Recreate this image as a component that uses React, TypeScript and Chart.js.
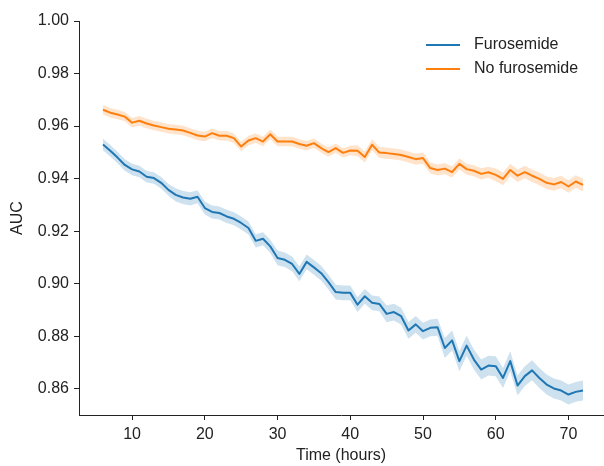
import React, { useEffect, useRef } from "react";
import { Chart, registerables } from "chart.js";

Chart.register(...registerables);

const hours = [
  6, 7, 8, 9, 10, 11, 12, 13, 14, 15, 16, 17, 18, 19, 20, 21, 22, 23, 24, 25, 26, 27, 28, 29, 30,
  31, 32, 33, 34, 35, 36, 37, 38, 39, 40, 41, 42, 43, 44, 45, 46, 47, 48, 49, 50, 51, 52, 53, 54,
  55, 56, 57, 58, 59, 60, 61, 62, 63, 64, 65, 66, 67, 68, 69, 70, 71, 72,
];

const furosemide = [
  0.953, 0.9506, 0.948, 0.9452, 0.9435, 0.9427, 0.9407, 0.9402, 0.9384, 0.9357, 0.9338, 0.9328,
  0.9323, 0.9331, 0.9288, 0.9273, 0.9269, 0.9256, 0.9247, 0.9231, 0.9212, 0.9163, 0.9171, 0.9142,
  0.9098, 0.9091, 0.9075, 0.9037, 0.9083, 0.9062, 0.904, 0.9006, 0.8968, 0.8965, 0.8965, 0.892,
  0.8952, 0.8927, 0.8923, 0.8885, 0.8892, 0.8876, 0.8822, 0.8845, 0.8819, 0.8832, 0.8834, 0.8755,
  0.8784, 0.8705, 0.8764, 0.8711, 0.8673, 0.8688, 0.8686, 0.8641, 0.8705, 0.8612, 0.8648, 0.867,
  0.8641, 0.8616, 0.8601, 0.8593, 0.8578, 0.8588, 0.8593,
];

const furosemideCI = [
  0.0022, 0.0022, 0.0022, 0.0022, 0.0022, 0.0022, 0.0022, 0.0022, 0.0022, 0.0022,
  0.0025, 0.0025, 0.0025, 0.0025, 0.0025, 0.0025, 0.0025, 0.0025, 0.0025, 0.0025, 0.0025, 0.0025,
  0.0025, 0.0025,
  0.0028, 0.0028, 0.0028, 0.0028, 0.0028, 0.0028, 0.0028, 0.0028, 0.0028, 0.0028, 0.0028, 0.0028,
  0.0028, 0.0028, 0.0028,
  0.0032, 0.0032, 0.0032, 0.0032, 0.0032, 0.0032, 0.0032, 0.0032,
  0.0038, 0.0038, 0.0038, 0.0038, 0.0038, 0.0038, 0.0038, 0.0038, 0.0038, 0.0038, 0.0038, 0.0038,
  0.0038, 0.0038, 0.0038, 0.0038, 0.0038, 0.0038, 0.0038, 0.0038,
];

const noFurosemide = [
  0.9662, 0.9651, 0.9644, 0.9636, 0.9613, 0.962, 0.961, 0.9602, 0.9596, 0.959, 0.9587, 0.9583,
  0.9574, 0.9564, 0.956, 0.9573, 0.9563, 0.9563, 0.9554, 0.9522, 0.9545, 0.9554, 0.9541, 0.9569,
  0.9541, 0.9541, 0.9541, 0.9532, 0.9525, 0.9535, 0.9516, 0.9501, 0.9516, 0.9498, 0.9507, 0.9506,
  0.9482, 0.9529, 0.9499, 0.9497, 0.9494, 0.949, 0.9482, 0.9474, 0.9478, 0.944, 0.9433, 0.9438,
  0.9425, 0.9456, 0.9436, 0.943, 0.9418, 0.9424, 0.9414, 0.9399, 0.9433, 0.9411, 0.9425, 0.9411,
  0.9399, 0.9384, 0.9378, 0.9387, 0.937, 0.9389, 0.9376,
];

const noFurosemideCI = [
  0.0018, 0.0018, 0.0018, 0.0018, 0.0018, 0.0018, 0.0018, 0.0018, 0.0018, 0.0018, 0.0018, 0.0018,
  0.0018, 0.0018, 0.0018, 0.0018, 0.0018, 0.0018, 0.0018, 0.0018, 0.0018, 0.0018, 0.0018, 0.0018,
  0.0018, 0.0018, 0.0018, 0.0018, 0.0018, 0.0018, 0.0018, 0.0018, 0.0018, 0.0018, 0.0018,
  0.0021, 0.0021, 0.0021, 0.0021, 0.0021, 0.0021, 0.0021, 0.0021, 0.0021, 0.0021, 0.0021, 0.0021,
  0.0021, 0.0021, 0.0021, 0.0021, 0.0021, 0.0021, 0.0021,
  0.0024, 0.0024, 0.0024, 0.0024, 0.0024, 0.0024, 0.0024, 0.0024, 0.0024, 0.0024, 0.0024, 0.0024,
  0.0024,
];

const seriesLabels = ["Furosemide", "No furosemide"];
const seriesColors = ["#1f77b4", "#ff7f0e"];
const bandColors = ["rgba(31,119,180,0.22)", "rgba(255,127,14,0.22)"];

const xTitle = "Time (hours)";
const yTitle = "AUC";

const FONT = '"Liberation Sans", Arial, sans-serif';

const pts = (vals: number[], ci: number[] | null, sign: number) =>
  hours.map((h, i) => ({ x: h, y: ci ? vals[i] + sign * ci[i] : vals[i] }));

const insideLegend = {
  id: "insideLegend",
  afterDraw(chart: any) {
    const ctx = chart.ctx;
    ctx.save();
    ctx.font = `16px ${FONT}`;
    ctx.textBaseline = "middle";
    ctx.textAlign = "left";
    seriesLabels.forEach((label, i) => {
      const y = 45 + i * 24;
      ctx.strokeStyle = seriesColors[i];
      ctx.lineWidth = 2;
      ctx.beginPath();
      ctx.moveTo(426, y);
      ctx.lineTo(460, y);
      ctx.stroke();
      ctx.fillStyle = "#222";
      ctx.fillText(label, 474, y);
    });
    ctx.restore();
  },
};

export default function App() {
  const ref = useRef<HTMLCanvasElement>(null);

  useEffect(() => {
    document.body.style.margin = "0";
    const canvas = ref.current;
    if (!canvas) return;
    const lineDs = (i: number, vals: number[]) => ({
      label: seriesLabels[i],
      data: pts(vals, null, 0),
      borderColor: seriesColors[i],
      borderWidth: 2,
      pointRadius: 0,
      tension: 0,
      fill: false,
      borderJoinStyle: "round" as const,
    });
    const bandDs = (i: number, vals: number[], ci: number[], sign: number, fillTarget: any) => ({
      label: seriesLabels[i] + (sign > 0 ? " upper" : " lower"),
      data: pts(vals, ci, sign),
      borderWidth: 0,
      borderColor: "rgba(0,0,0,0)",
      backgroundColor: bandColors[i],
      pointRadius: 0,
      tension: 0,
      fill: fillTarget,
    });
    const chart = new Chart(canvas, {
      type: "line",
      data: {
        datasets: [
          lineDs(0, furosemide),
          lineDs(1, noFurosemide),
          bandDs(0, furosemide, furosemideCI, 1, false),
          bandDs(0, furosemide, furosemideCI, -1, 2),
          bandDs(1, noFurosemide, noFurosemideCI, 1, false),
          bandDs(1, noFurosemide, noFurosemideCI, -1, 4),
        ],
      },
      options: {
        animation: false,
        responsive: false,
        maintainAspectRatio: false,
        layout: { padding: { top: 21, right: 1, left: 0, bottom: 0 } },
        plugins: {
          legend: { display: false },
          tooltip: { enabled: false },
        },
        scales: {
          x: {
            type: "linear",
            min: 2.7,
            max: 74.75,
            afterFit: (s: any) => {
              s.height = 51;
            },
            border: { display: true, color: "#222", width: 1 },
            grid: { drawOnChartArea: false, drawTicks: true, tickLength: 5, color: "#222" },
            ticks: {
              stepSize: 10,
              includeBounds: false,
              padding: 5,
              color: "#222",
              font: { family: FONT, size: 16 },
              maxRotation: 0,
            },
            title: {
              display: true,
              text: xTitle,
              color: "#222",
              font: { family: FONT, size: 16 },
              padding: { top: 0, bottom: 1 },
            },
          },
          y: {
            type: "linear",
            min: 0.85,
            max: 1.0,
            afterFit: (s: any) => {
              s.width = 79;
            },
            border: { display: true, color: "#222", width: 1 },
            grid: { drawOnChartArea: false, drawTicks: true, tickLength: 5, color: "#222" },
            ticks: {
              stepSize: 0.02,
              includeBounds: false,
              padding: 5,
              color: "#222",
              font: { family: FONT, size: 16 },
              callback: (v: any) => Number(v).toFixed(2),
            },
            title: {
              display: true,
              text: yTitle,
              color: "#222",
              font: { family: FONT, size: 16 },
              padding: { top: 8, bottom: 0 },
            },
          },
        },
      },
      plugins: [insideLegend],
    } as any);
    return () => chart.destroy();
  }, []);

  return (
    <div style={{ position: "absolute", left: 0, top: 0, width: 604, height: 466, background: "#fff" }}>
      <canvas ref={ref} width={604} height={466} style={{ width: 604, height: 466, display: "block" }} />
    </div>
  );
}
